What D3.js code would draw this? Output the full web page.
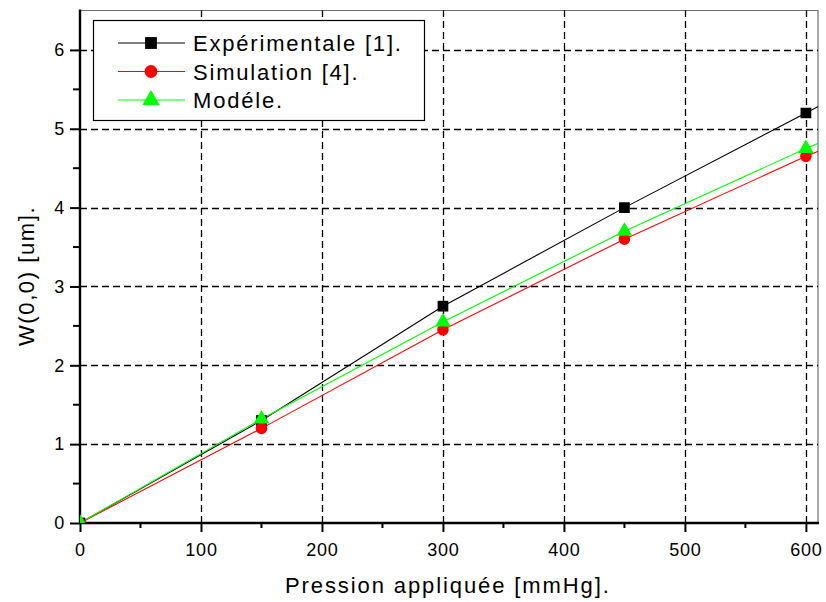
<!DOCTYPE html>
<html>
<head>
<meta charset="utf-8">
<script src="https://cdn.jsdelivr.net/npm/d3@7"></script>
<style>
  body { margin: 0; background: #fff; }
  text { font-family: "Liberation Sans", Arial, sans-serif; fill: #000; }
</style>
</head>
<body>
<div id="chart"></div>
<script>
// values (last point lies outside the frame, only its line shows)
var pressure = [0, 150, 300, 450, 600, 750];
var experimentale = [0, 1.3, 2.75, 4.0, 5.2, 6.43];
var simulation = [0, 1.2, 2.45, 3.6, 4.65, 5.61];
var modele = [0, 1.32, 2.55, 3.7, 4.75, 5.71];

var xTicks = [0, 100, 200, 300, 400, 500, 600];
var xMinor = [50, 150, 250, 350, 450, 550];
var yTicks = [0, 1, 2, 3, 4, 5, 6];
var yMinor = [0.5, 1.5, 2.5, 3.5, 4.5, 5.5];

var seriesNames = ["Expérimentale [1].", "Simulation [4].", "Modéle."];
var seriesColors = ["#000000", "#ff0000", "#00ff00"];
var seriesShapes = [d3.symbolSquare, d3.symbolCircle, d3.symbolTriangle];
var seriesSizes = [115, 105, 105];

var chartWidth = 826, chartHeight = 602;
var plotLeft = 80, plotRight = 818, plotTop = 10.5, plotBottom = 523;

var svg = d3.select("#chart").append("svg")
    .attr("width", chartWidth)
    .attr("height", chartHeight);

var x = d3.scaleLinear().domain([0, 610]).range([plotLeft, plotRight]);
var y = d3.scaleLinear().domain([0, 6.5]).range([plotBottom, plotTop]);

svg.append("clipPath").attr("id", "plot-clip")
    .append("rect")
    .attr("x", plotLeft).attr("y", plotTop)
    .attr("width", plotRight - plotLeft).attr("height", plotBottom - plotTop);

// frame (top and right)
svg.append("path")
    .attr("d", "M" + plotLeft + "," + plotTop + "H" + plotRight + "V" + plotBottom)
    .attr("fill", "none")
    .attr("stroke", "#6e6e6e")
    .attr("stroke-width", 1.2);

// dashed grid
var grid = svg.append("g");
grid.selectAll(".gx").data(xTicks.filter(function(d) { return d > 0; }))
    .enter().append("line")
    .attr("x1", function(d) { return Math.round(x(d)) + 0.5; })
    .attr("x2", function(d) { return Math.round(x(d)) + 0.5; })
    .attr("y1", plotBottom).attr("y2", plotTop)
    .attr("stroke", "#000").attr("stroke-width", 1.3)
    .attr("stroke-dasharray", "7,4");
grid.selectAll(".gy").data(yTicks.filter(function(d) { return d > 0; }))
    .enter().append("line")
    .attr("y1", function(d) { return Math.round(y(d)) + 0.5; })
    .attr("y2", function(d) { return Math.round(y(d)) + 0.5; })
    .attr("x1", plotLeft).attr("x2", plotRight)
    .attr("stroke", "#000").attr("stroke-width", 1.3)
    .attr("stroke-dasharray", "7,4");

// axes
var xAxis = d3.axisBottom(x).tickValues(xTicks).tickSize(9).tickPadding(11)
    .tickFormat(d3.format("d"));
var yAxis = d3.axisLeft(y).tickValues(yTicks).tickSize(10).tickPadding(5)
    .tickFormat(d3.format("d"));

var gx = svg.append("g").attr("transform", "translate(0," + plotBottom + ")").call(xAxis);
var gy = svg.append("g").attr("transform", "translate(" + plotLeft + ",0)").call(yAxis);

[gx, gy].forEach(function(g) {
    g.select(".domain").remove();
    g.selectAll(".tick line").attr("stroke", "#000").attr("stroke-width", 2);
    g.selectAll(".tick text")
        .style("font-family", "'Liberation Sans', Arial, sans-serif")
        .style("font-size", "18px")
        .style("letter-spacing", "0.8px")
        .attr("fill", "#000");
});

gx.selectAll(".minor").data(xMinor).enter().append("line")
    .attr("x1", function(d) { return x(d); })
    .attr("x2", function(d) { return x(d); })
    .attr("y1", 0).attr("y2", 5)
    .attr("stroke", "#000").attr("stroke-width", 2);
gy.selectAll(".minor").data(yMinor).enter().append("line")
    .attr("y1", function(d) { return y(d); })
    .attr("y2", function(d) { return y(d); })
    .attr("x1", 0).attr("x2", -7)
    .attr("stroke", "#000").attr("stroke-width", 2);

svg.append("line")
    .attr("x1", plotLeft).attr("x2", plotRight + 1)
    .attr("y1", plotBottom).attr("y2", plotBottom)
    .attr("stroke", "#000").attr("stroke-width", 2.4);
svg.append("line")
    .attr("x1", plotLeft).attr("x2", plotLeft)
    .attr("y1", plotTop - 1).attr("y2", plotBottom + 1)
    .attr("stroke", "#000").attr("stroke-width", 2.4);

// series
var allSeries = [experimentale, simulation, modele];
var plot = svg.append("g").attr("clip-path", "url(#plot-clip)");

var line = d3.line()
    .x(function(d) { return x(d[0]); })
    .y(function(d) { return y(d[1]); });

allSeries.forEach(function(values, i) {
    var pts = pressure.map(function(p, j) { return [p, values[j]]; });
    plot.append("path")
        .datum(pts)
        .attr("d", line)
        .attr("fill", "none")
        .attr("stroke", seriesColors[i])
        .attr("stroke-width", 1.1);
});

allSeries.forEach(function(values, i) {
    var pts = pressure.map(function(p, j) { return [p, values[j]]; });
    plot.selectAll(".m" + i).data(pts).enter().append("path")
        .attr("transform", function(d) { return "translate(" + x(d[0]) + "," + y(d[1]) + ")"; })
        .attr("d", d3.symbol().type(seriesShapes[i]).size(seriesSizes[i]))
        .attr("fill", seriesColors[i]);
});

// legend
var legend = svg.append("g");
legend.append("rect")
    .attr("x", 93.5).attr("y", 20.5)
    .attr("width", 331).attr("height", 100)
    .attr("fill", "#fff")
    .attr("stroke", "#000").attr("stroke-width", 1.2);

seriesNames.forEach(function(name, i) {
    var ly = 43 + i * 28.5;
    legend.append("line")
        .attr("x1", 118).attr("x2", 185)
        .attr("y1", ly).attr("y2", ly)
        .attr("stroke", seriesColors[i]).attr("stroke-width", 1.1);
    legend.append("path")
        .attr("transform", "translate(151," + ly + ")")
        .attr("d", d3.symbol().type(seriesShapes[i]).size(seriesSizes[i] + 25))
        .attr("fill", seriesColors[i]);
    legend.append("text")
        .attr("x", 193).attr("y", ly + 8)
        .style("font-size", "22px")
        .style("letter-spacing", "1.8px")
        .text(name);
});

// axis titles
svg.append("text")
    .attr("x", 285).attr("y", 593)
    .style("font-size", "22px")
    .style("letter-spacing", "1.9px")
    .text("Pression appliquée [mmHg].");

svg.append("text")
    .attr("transform", "translate(34,346) rotate(-90)")
    .style("font-size", "22px")
    .style("letter-spacing", "1.6px")
    .text("W(0,0) [um].");
</script>
</body>
</html>
